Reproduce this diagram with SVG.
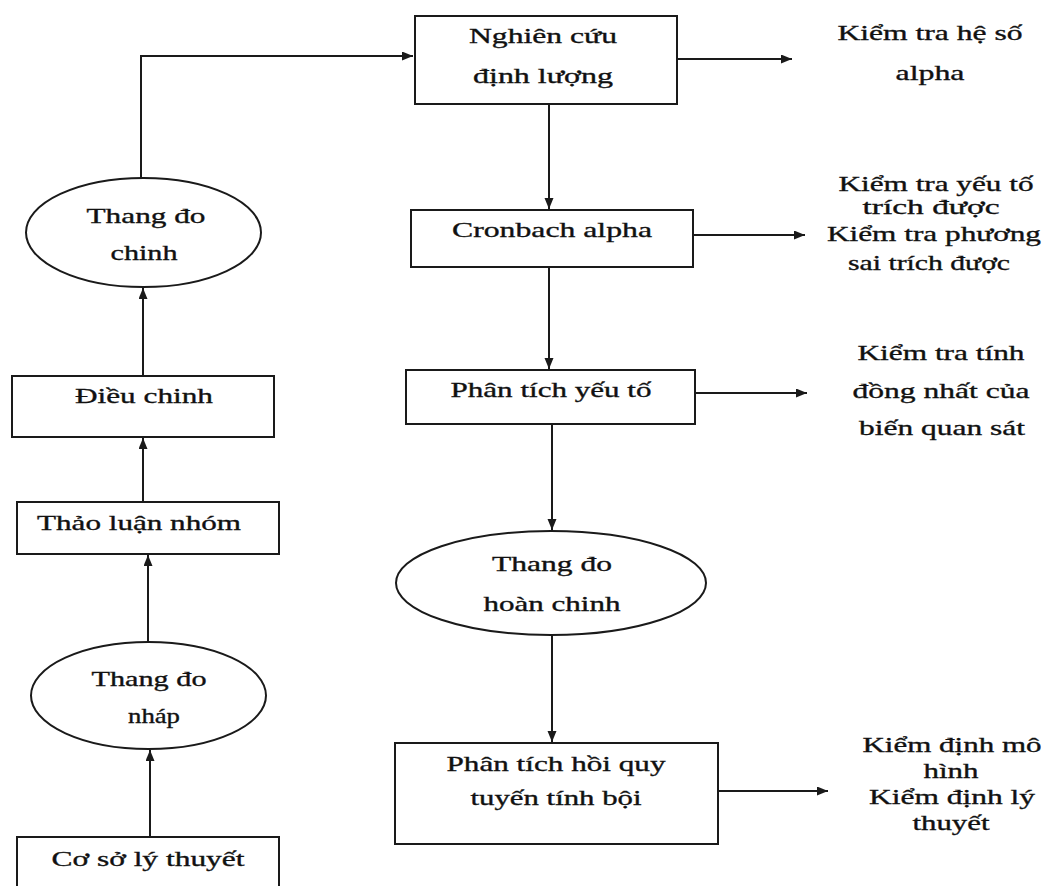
<svg xmlns="http://www.w3.org/2000/svg" width="1047" height="886" viewBox="0 0 1047 886">
<style>
.box{fill:#fff;stroke:#1a1a1a;stroke-width:2}
.el{fill:#fff;stroke:#1a1a1a;stroke-width:2}
.c{fill:none;stroke:#1a1a1a;stroke-width:2}
text{font-family:"Liberation Serif","Times New Roman",serif;font-size:22px;fill:#111;stroke:#111;stroke-width:0.35;text-anchor:middle}
</style>
<defs>
<marker id="ah" markerUnits="userSpaceOnUse" markerWidth="12" markerHeight="10" refX="11" refY="4.5" orient="auto">
<path d="M0,0 L11,4.5 L0,9 z" fill="#1a1a1a"/>
</marker>
</defs>
<rect width="1047" height="886" fill="#fff"/>
<g id="connectors">
<path class="c" d="M141,178 V56 H413" marker-end="url(#ah)"/>
<path class="c" d="M677,59 H792" marker-end="url(#ah)"/>
<path class="c" d="M549,104 V209" marker-end="url(#ah)"/>
<path class="c" d="M693,235 H805" marker-end="url(#ah)"/>
<path class="c" d="M549,267 V369" marker-end="url(#ah)"/>
<path class="c" d="M695,393 H807" marker-end="url(#ah)"/>
<path class="c" d="M552,424 V530" marker-end="url(#ah)"/>
<path class="c" d="M552,635 V742" marker-end="url(#ah)"/>
<path class="c" d="M718,791 H828" marker-end="url(#ah)"/>
<path class="c" d="M143,376 V288" marker-end="url(#ah)"/>
<path class="c" d="M143,502 V438" marker-end="url(#ah)"/>
<path class="c" d="M148,642 V555" marker-end="url(#ah)"/>
<path class="c" d="M150,837 V750" marker-end="url(#ah)"/>
</g>
<g id="n-nghien-cuu">
<rect class="box" x="415" y="16" width="262" height="88"/>
<text x="543" y="43" textLength="148" lengthAdjust="spacingAndGlyphs">Nghiên cứu</text>
<text x="543" y="83" textLength="140" lengthAdjust="spacingAndGlyphs">định lượng</text>
</g>
<g id="n-kiem-tra-he-so">
<text x="930" y="40" textLength="185" lengthAdjust="spacingAndGlyphs">Kiểm tra hệ số</text>
<text x="930" y="80" textLength="69" lengthAdjust="spacingAndGlyphs">alpha</text>
</g>
<g id="n-cronbach">
<rect class="box" x="411" y="210" width="282" height="57"/>
<text x="552" y="237" textLength="200" lengthAdjust="spacingAndGlyphs">Cronbach alpha</text>
</g>
<g id="n-kiem-tra-yeu-to">
<text x="936" y="191" textLength="195" lengthAdjust="spacingAndGlyphs">Kiểm tra yếu tố</text>
<text x="931" y="214" textLength="137" lengthAdjust="spacingAndGlyphs">trích được</text>
<text x="934" y="241" textLength="214" lengthAdjust="spacingAndGlyphs">Kiểm tra phương</text>
<text x="929" y="270" textLength="162" lengthAdjust="spacingAndGlyphs">sai trích được</text>
</g>
<g id="n-phan-tich-yeu-to">
<rect class="box" x="406" y="370" width="289" height="54"/>
<text x="551" y="397" textLength="201" lengthAdjust="spacingAndGlyphs">Phân tích yếu tố</text>
</g>
<g id="n-kiem-tra-tinh">
<text x="941" y="360" textLength="167" lengthAdjust="spacingAndGlyphs">Kiểm tra tính</text>
<text x="941" y="398" textLength="177" lengthAdjust="spacingAndGlyphs">đồng nhất của</text>
<text x="942" y="435" textLength="166" lengthAdjust="spacingAndGlyphs">biến quan sát</text>
</g>
<g id="n-thang-do-hoan-chinh">
<ellipse class="el" cx="551" cy="583" rx="155" ry="52"/>
<text x="552" y="571" textLength="120" lengthAdjust="spacingAndGlyphs">Thang đo</text>
<text x="552" y="611" textLength="137" lengthAdjust="spacingAndGlyphs">hoàn chinh</text>
</g>
<g id="n-hoi-quy">
<rect class="box" x="395" y="743" width="323" height="101"/>
<text x="556" y="771" textLength="219" lengthAdjust="spacingAndGlyphs">Phân tích hồi quy</text>
<text x="556" y="805" textLength="171" lengthAdjust="spacingAndGlyphs">tuyến tính bội</text>
</g>
<g id="n-kiem-dinh">
<text x="952" y="752" textLength="179" lengthAdjust="spacingAndGlyphs">Kiểm định mô</text>
<text x="951" y="778" textLength="55" lengthAdjust="spacingAndGlyphs">hình</text>
<text x="952" y="804" textLength="166" lengthAdjust="spacingAndGlyphs">Kiểm định lý</text>
<text x="951" y="830" textLength="77" lengthAdjust="spacingAndGlyphs">thuyết</text>
</g>
<g id="n-thang-do-chinh">
<ellipse class="el" cx="143.5" cy="232.5" rx="117.5" ry="54.5"/>
<text x="146" y="223" textLength="119" lengthAdjust="spacingAndGlyphs">Thang đo</text>
<text x="144" y="260" textLength="67" lengthAdjust="spacingAndGlyphs">chinh</text>
</g>
<g id="n-dieu-chinh">
<rect class="box" x="12" y="376" width="262" height="61"/>
<text x="144" y="403" textLength="138" lengthAdjust="spacingAndGlyphs">Điều chinh</text>
</g>
<g id="n-thao-luan">
<rect class="box" x="17" y="502" width="262" height="52"/>
<text x="139" y="530" textLength="204" lengthAdjust="spacingAndGlyphs">Thảo luận nhóm</text>
</g>
<g id="n-thang-do-nhap">
<ellipse class="el" cx="148.5" cy="695.5" rx="117.5" ry="53.5"/>
<text x="149" y="686" textLength="115" lengthAdjust="spacingAndGlyphs">Thang đo</text>
<text x="154" y="723" textLength="52" lengthAdjust="spacingAndGlyphs">nháp</text>
</g>
<g id="n-co-so">
<rect class="box" x="17" y="837" width="262" height="60"/>
<text x="148" y="866" textLength="193" lengthAdjust="spacingAndGlyphs">Cơ sở lý thuyết</text>
</g>
</svg>
